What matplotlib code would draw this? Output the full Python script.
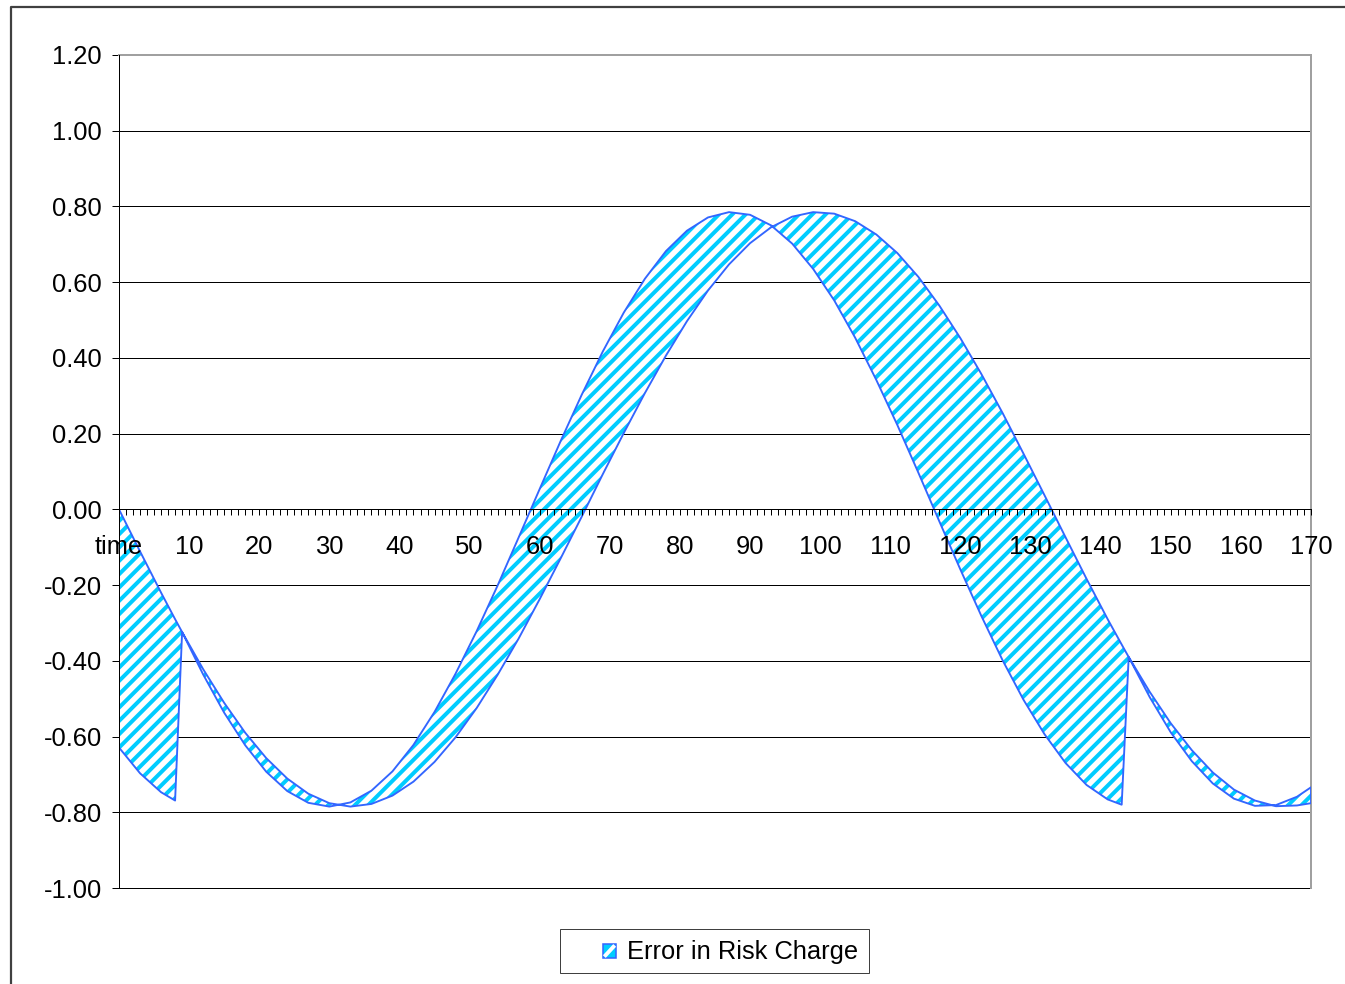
import matplotlib
matplotlib.use('Agg')
import matplotlib.pyplot as plt
from matplotlib.patches import Rectangle
from matplotlib.lines import Line2D

# ---------------- data ----------------
time = [0, 3, 6, 8, 9, 12, 15, 18, 21, 24, 27, 30, 33, 36, 39, 42, 45, 48, 51,
        54, 57, 60, 63, 66, 69, 72, 75, 78, 81, 84, 87, 90, 93, 96, 99, 102,
        105, 108, 111, 114, 117, 120, 123, 126, 129, 132, 135, 138, 141, 143,
        144, 147, 150, 153, 156, 159, 162, 165, 168, 170]

# smooth curve
risk_charge_actual = [0.000, -0.111, -0.220, -0.290, -0.324, -0.422, -0.511,
                      -0.590, -0.657, -0.711, -0.751, -0.776, -0.785, -0.778,
                      -0.756, -0.719, -0.667, -0.602, -0.525, -0.437, -0.341,
                      -0.237, -0.129, -0.019, 0.093, 0.202, 0.307, 0.406,
                      0.497, 0.578, 0.647, 0.703, 0.745, 0.773, 0.785, 0.781,
                      0.761, 0.726, 0.677, 0.614, 0.538, 0.452, 0.357, 0.255,
                      0.147, 0.037, -0.074, -0.184, -0.290, -0.357, -0.390,
                      -0.482, -0.565, -0.636, -0.695, -0.740, -0.769, -0.784,
                      -0.782, -0.776]

# estimated curve (resets at t=9 and t=144)
risk_charge_estimate = [-0.629, -0.697, -0.747, -0.769, -0.324, -0.436, -0.537,
                        -0.623, -0.693, -0.744, -0.775, -0.785, -0.774, -0.743,
                        -0.692, -0.622, -0.535, -0.434, -0.322, -0.201, -0.074,
                        0.054, 0.181, 0.303, 0.417, 0.520, 0.609, 0.682, 0.736,
                        0.771, 0.785, 0.778, 0.750, 0.702, 0.635, 0.552, 0.453,
                        0.342, 0.223, 0.097, -0.032, -0.159, -0.282, -0.398,
                        -0.503, -0.594, -0.670, -0.728, -0.766, -0.780, -0.390,
                        -0.496, -0.589, -0.665, -0.724, -0.764, -0.783, -0.781,
                        -0.759, -0.734]

x_major_ticks = [0, 10, 20, 30, 40, 50, 60, 70, 80, 90, 100, 110, 120, 130,
                 140, 150, 160, 170]
x_tick_labels = ['time', '10', '20', '30', '40', '50', '60', '70', '80', '90',
                 '100', '110', '120', '130', '140', '150', '160', '170']
x_minor_ticks = list(range(0, 171))
y_ticks = [-1.0, -0.8, -0.6, -0.4, -0.2, 0.0, 0.2, 0.4, 0.6, 0.8, 1.0, 1.2]
y_tick_labels = ['-1.00', '-0.80', '-0.60', '-0.40', '-0.20', '0.00', '0.20',
                 '0.40', '0.60', '0.80', '1.00', '1.20']
legend_label = 'Error in Risk Charge'

# ---------------- style ----------------
DPI = 80
W, H = 1345, 984
plt.rcParams['font.family'] = ['Liberation Sans', 'DejaVu Sans']
plt.rcParams['hatch.linewidth'] = 3.6
CYAN = '#00CCFF'
BLUE = '#3366FF'
FS = 23

fig = plt.figure(figsize=(W / DPI, H / DPI), dpi=DPI)
fig.patch.set_facecolor('white')

ax = fig.add_axes([119 / W, 1 - 888 / H, (1311 - 119) / W, (888 - 55) / H])
ax.set_xlim(0, 170)
ax.set_ylim(-1.0, 1.2)

# hatched band between the two curves
ax.fill_between(time, risk_charge_estimate, risk_charge_actual,
                facecolor='white', edgecolor=CYAN, hatch='//', linewidth=0,
                zorder=3)
# outline of the band
outline_x = time + time[::-1] + [time[0]]
outline_y = risk_charge_actual + risk_charge_estimate[::-1] + [risk_charge_actual[0]]
ax.plot(outline_x, outline_y, color=BLUE, lw=1.7, zorder=4)

# grid (horizontal lines, drawn below the band)
ax.set_yticks(y_ticks)
ax.set_yticklabels(y_tick_labels)
ax.yaxis.grid(True, color='black', lw=0.9)
ax.axhline(-1.0, color='black', lw=0.9, clip_on=False, zorder=1)
ax.yaxis.set_zorder(0.5)
ax.xaxis.set_zorder(6)

# spines
ax.spines['bottom'].set_position(('data', 0))
ax.spines['bottom'].set_color('black')
ax.spines['bottom'].set_linewidth(0.9)
ax.spines['bottom'].set_zorder(5)
ax.spines['left'].set_color('black')
ax.spines['left'].set_linewidth(0.9)
ax.spines['left'].set_zorder(5)
for s in ('top', 'right'):
    ax.spines[s].set_color('#A0A0A0')
    ax.spines[s].set_linewidth(1.8)

# x ticks
ax.set_xticks(x_major_ticks)
ax.set_xticklabels(x_tick_labels)
ax.set_xticks(x_minor_ticks, minor=True)
ax.tick_params(axis='x', which='both', direction='out', length=5.4, width=0.9,
               color='black')
ax.tick_params(axis='x', which='major', labelsize=FS, pad=17.5)
ax.tick_params(axis='y', which='major', direction='out', length=6.3, width=0.9,
               labelsize=FS, pad=9)

# outer chart frame (left and top edges visible)
fig.add_artist(Line2D([11 / W, 11 / W, 1.01], [-0.01, 1 - 7 / H, 1 - 7 / H],
                      transform=fig.transFigure, color='#404040', lw=2.0))

# legend (drawn manually to match the box)
fig.add_artist(Rectangle((560 / W, 1 - 973 / H), 309 / W, 44 / H,
                         transform=fig.transFigure, facecolor='white',
                         edgecolor='#404040', lw=0.9))
sq_x0, sq_y0, sq_w, sq_h = 603 / W, 1 - 958 / H, 13 / W, 14 / H
fig.add_artist(Rectangle((sq_x0, sq_y0), sq_w, sq_h,
                         transform=fig.transFigure, facecolor=CYAN, lw=0))
fig.add_artist(Line2D([sq_x0 + sq_w * 0.1, sq_x0 + sq_w * 0.9],
                      [sq_y0 + sq_h * 0.1, sq_y0 + sq_h * 0.9],
                      transform=fig.transFigure, color='white', lw=3.5,
                      solid_capstyle='butt'))
fig.add_artist(Rectangle((sq_x0, sq_y0), sq_w, sq_h,
                         transform=fig.transFigure, facecolor='none',
                         edgecolor=BLUE, lw=1.4))
fig.text(627 / W, 1 - 952 / H, legend_label, ha='left', va='center',
         fontsize=FS, color='black')

fig.savefig('out.png', dpi=DPI)
